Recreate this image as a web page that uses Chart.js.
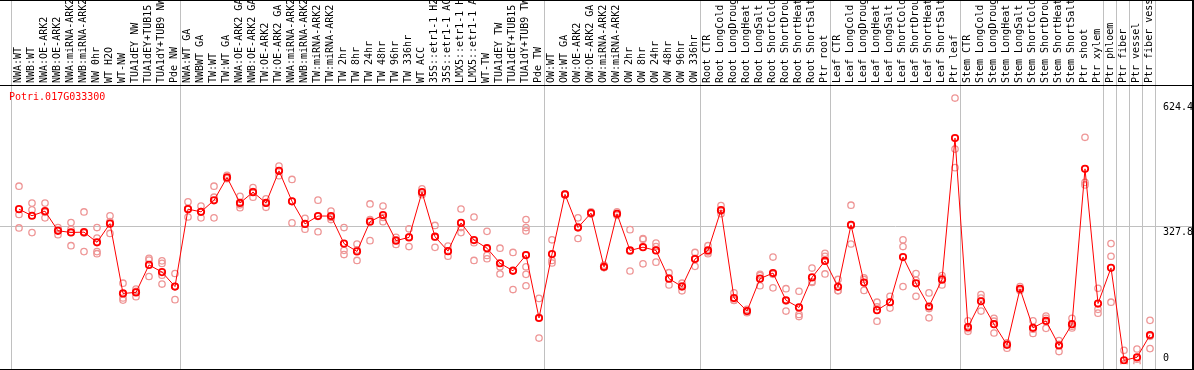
<!DOCTYPE html>
<html>
<head>
<meta charset="utf-8">
<script src="https://cdn.jsdelivr.net/npm/chart.js@4.4.1/dist/chart.umd.min.js"></script>
<style>
  html, body { margin:0; padding:0; background:#fff; }
  #wrap { width:1194px; height:370px; }
</style>
</head>
<body>
<div id="wrap"><canvas id="chart" width="1194" height="370"></canvas></div>
<script>
/* -------- data -------- */
const geneId = 'Potri.017G033300';

const samples = [
  'NWA:WT', 'NWB:WT', 'NWA:OE-ARK2', 'NWB:OE-ARK2', 'NWA:miRNA-ARK2', 'NWB:miRNA-ARK2',
  'NW 0hr', 'WT H2O', 'WT-NW', 'TUA1dEY NW', 'TUA1dEY+TUB15 NW', 'TUA1dY+TUB9 NW', 'Pde NW',
  'NWA:WT GA', 'NWBWT GA', 'TW:WT', 'TW:WT GA', 'NWA:OE-ARK2 GA', 'NWB:OE-ARK2 GA',
  'TW:OE-ARK2', 'TW:OE-ARK2 GA', 'NWA:miRNA-ARK2', 'NWB:miRNA-ARK2', 'TW:miRNA-ARK2',
  'TW:miRNA-ARK2', 'TW 2hr', 'TW 8hr', 'TW 24hr', 'TW 48hr', 'TW 96hr', 'TW 336hr', 'WT ACC',
  '35S::etr1-1 H2O', '35S::etr1-1 ACC', 'LMX5::etr1-1 H2O', 'LMX5::etr1-1 ACC', 'WT-TW',
  'TUA1dEY TW', 'TUA1dEY+TUB15 TW', 'TUA1dY+TUB9 TW', 'Pde TW',
  'OW:WT', 'OW:WT GA', 'OW:OE-ARK2', 'OW:OE-ARK2 GA', 'OW:miRNA-ARK2', 'OW:miRNA-ARK2',
  'OW 2hr', 'OW 8hr', 'OW 24hr', 'OW 48hr', 'OW 96hr', 'OW 336hr',
  'Root CTR', 'Root LongCold', 'Root LongDrought', 'Root LongHeat', 'Root LongSalt',
  'Root ShortCold', 'Root ShortDrought', 'Root ShortHeat', 'Root ShortSalt', 'Ptr root',
  'Leaf CTR', 'Leaf LongCold', 'Leaf LongDrought', 'Leaf LongHeat', 'Leaf LongSalt',
  'Leaf ShortCold', 'Leaf ShortDrought', 'Leaf ShortHeat', 'Leaf ShortSalt', 'Ptr leaf',
  'Stem CTR', 'Stem LongCold', 'Stem LongDrought', 'Stem LongHeat', 'Stem LongSalt',
  'Stem ShortCold', 'Stem ShortDrought', 'Stem ShortHeat', 'Stem ShortSalt', 'Ptr shoot',
  'Ptr xylem', 'Ptr phloem', 'Ptr fiber', 'Ptr vessel', 'Ptr fiber vessel',
];

// mean expression per sample
const means = [
  367.6, 352.0, 362.9, 316.3, 312.4, 313.1, 289.0, 333.3, 167.8, 170.2, 235.4, 218.4, 184.1,
  367.6, 361.3, 388.6, 442.9, 382.3, 407.9, 382.3, 458.5, 386.2, 332.6, 351.3, 351.3, 286.0,
  267.4, 338.0, 353.6, 293.0, 300.7, 407.9, 302.3, 268.1, 335.0, 294.4, 275.1, 239.4, 221.4,
  258.7, 109.6,
  261.1, 402.6, 324.0, 358.3, 230.8, 356.6, 269.7, 277.4, 269.7, 202.8, 184.1, 249.4,
  269.7, 365.3, 156.9, 125.9, 202.8, 216.1, 151.5, 134.5, 205.8, 244.8,
  183.4, 330.3, 193.5, 128.2, 146.9, 254.1, 191.8, 136.8, 200.5, 536.1,
  87.9, 149.2, 94.9, 45.9, 178.8, 86.2, 102.6, 44.3, 94.9, 463.2,
  143.8, 228.4, 9.3, 16.3, 69.2,
];

// individual replicates per sample
const reps = [
  [422, 355, 323], [382, 366, 312], [382, 347, 360], [324, 307, 318], [336, 281, 320],
  [361, 267, 311], [324, 299, 267, 262], [352, 310, 338], [192, 157, 152], [178, 160, 173],
  [251, 247, 208], [245, 239, 211, 190], [215, 153, 184],
  [385, 349, 369], [375, 347, 362], [422, 396, 347], [448, 441, 440], [398, 378, 371],
  [419, 396, 409], [392, 372, 382], [470, 447, 458], [438, 335, 386], [346, 320, 332],
  [389, 314, 351], [363, 343, 348], [324, 270, 260], [285, 246, 271], [380, 343, 293],
  [375, 338, 348], [301, 284, 295], [321, 279, 302], [416, 402, 406], [329, 277, 301],
  [280, 256, 268], [368, 312, 324], [349, 246, 288], [315, 258, 250], [275, 231, 214],
  [265, 177, 223], [343, 324, 316, 259, 231, 213, 186], [156, 62, 111],
  [295, 246, 240], [404, 402, 401], [347, 298, 326], [361, 358, 356], [235, 229, 229],
  [361, 356, 353], [319, 221, 268], [298, 238, 296], [287, 242, 279], [217, 188, 204],
  [192, 174, 186], [265, 232, 251],
  [281, 262, 266], [376, 357, 363], [169, 152, 151], [130, 122, 126], [213, 186, 210],
  [254, 181, 213], [179, 126, 150], [173, 118, 113], [228, 194, 196], [263, 256, 214],
  [201, 175, 174], [377, 285, 329], [205, 175, 201], [147, 102, 136], [161, 133, 147],
  [295, 279, 184], [215, 161, 199], [169, 110, 132], [210, 188, 204], [631, 510, 466],
  [103, 78, 84], [165, 126, 157], [109, 74, 102], [38, 50, 50], [184, 178, 175],
  [103, 73, 83], [114, 85, 109], [56, 30, 47], [109, 90, 86], [538, 431, 425],
  [180, 130, 121], [286, 256, 147], [33, 1, 0], [36, 2, 12], [104, 37, 66],
];

const yTicks      = [0, 327.8, 624.4];
const yMax        = 662;
const groupBreaks = [0, 13, 41, 53, 63, 73, 84, 85, 86, 87, 88];  // sample index where a block starts

/* -------- styles -------- */
const MONO    = '"DejaVu Sans Mono", "Liberation Mono", monospace';
const red     = '#ff0000';
const pink    = 'rgb(238,150,150)';
const gridClr = '#c0c0c0';

/* -------- frame, separators, title, value labels -------- */
const frame = {
  id: 'frame',
  beforeDatasetsDraw(chart) {
    const { ctx, chartArea: a, scales: { x, y } } = chart;
    const W = chart.width, H = chart.height;
    const step = (a.right - a.left) / samples.length;
    ctx.save();
    ctx.strokeStyle = gridClr;
    ctx.lineWidth = 1;
    const ym = Math.round(y.getPixelForValue(yTicks[1])) + 0.5;
    ctx.beginPath(); ctx.moveTo(0, ym); ctx.lineTo(W, ym); ctx.stroke();
    groupBreaks.forEach(k => {
      const gx = Math.floor(a.left + k * step - 1) + 0.5;
      ctx.beginPath(); ctx.moveTo(gx, 0); ctx.lineTo(gx, H); ctx.stroke();
    });
    ctx.restore();
  },
  afterDraw(chart) {
    const { ctx, scales: { y } } = chart;
    const W = chart.width, H = chart.height;
    ctx.save();
    ctx.font = '10px ' + MONO;
    ctx.textBaseline = 'alphabetic';
    ctx.textAlign = 'left';
    ctx.fillStyle = red;
    ctx.fillText(geneId, 9, 100);
    ctx.fillStyle = '#000';
    yTicks.forEach(v => {
      const py = y.getPixelForValue(v);
      ctx.fillText(String(v), 1163, v === 0 ? py - 3 : py + 9);
    });
    ctx.fillRect(0, 0, W, 1);
    ctx.fillRect(0, 85, W, 1);
    ctx.fillRect(0, H - 1, W, 1);
    ctx.fillRect(W - 2, 0, 2, H);
    ctx.restore();
  },
};

/* -------- datasets -------- */
const nReps = Math.max(...reps.map(r => r.length));
const repSets = Array.from({ length: nReps }, (_, r) => ({
  type: 'line',
  label: 'rep ' + (r + 1),
  data: reps.map(a => a[r] ?? null),
  showLine: false,
  pointRadius: 3.2,
  pointBorderWidth: 1.3,
  pointBorderColor: pink,
  pointBackgroundColor: 'rgba(0,0,0,0)',
  order: 2,
}));

new Chart(document.getElementById('chart'), {
  type: 'line',
  data: {
    labels: samples,
    datasets: [
      { label: 'mean', data: means, borderColor: red, borderWidth: 1, tension: 0,
        pointRadius: 3.2, pointBorderWidth: 1.8, pointBorderColor: red,
        pointBackgroundColor: 'rgba(0,0,0,0)', order: 1 },
      ...repSets,
    ],
  },
  options: {
    responsive: false,
    animation: false,
    events: [],
    layout: { padding: { left: 12.5, right: 37.5, top: 0, bottom: 1 } },
    plugins: { legend: { display: false }, tooltip: { enabled: false } },
    scales: {
      x: {
        position: 'top',
        offset: true,
        grid: { display: false, drawTicks: false },
        border: { display: false },
        ticks: { autoSkip: false, minRotation: 90, maxRotation: 90, padding: 2, labelOffset: 11,
                 color: '#000', font: { family: MONO, size: 10 } },
        afterFit(s) { s.height = 85; s.paddingLeft = 0; s.paddingRight = 0; },
      },
      y: { display: false, min: 0, max: yMax },
    },
  },
  plugins: [frame],
});
</script>
</body>
</html>
